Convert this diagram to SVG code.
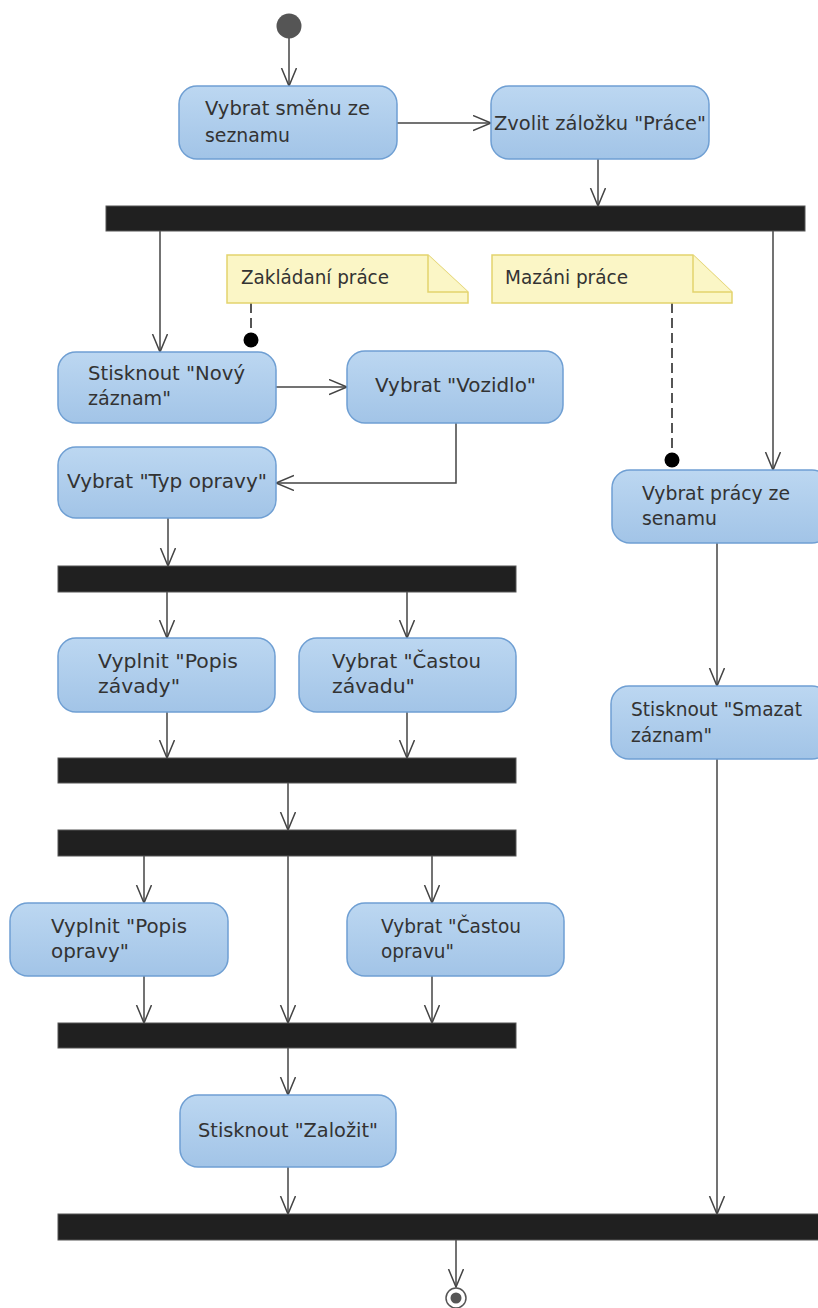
<svg xmlns="http://www.w3.org/2000/svg" width="818" height="1308" viewBox="0 0 818 1308">
  <style>
    .act { fill: url(#actFill); stroke: #6f9fd3; stroke-width: 1.5; }
    .bar { fill: #202020; stroke: #555; stroke-width: 1; }
    .note { fill: #fbf6c6; stroke: #e3d36e; stroke-width: 1.5; }
    .lbl { font-family: "DejaVu Sans", "Liberation Sans", sans-serif; font-size: 20px; fill: #333; }
    .flow { fill: none; stroke: #444; stroke-width: 1.5; marker-end: url(#open); }
    .anchor { fill: none; stroke: #555; stroke-width: 2; stroke-dasharray: 10 5; }
  </style>
  <defs>
    <linearGradient id="actFill" x1="0" y1="0" x2="0" y2="1">
      <stop offset="0" stop-color="#bcd7f1"/>
      <stop offset="1" stop-color="#a2c4e7"/>
    </linearGradient>
    <marker id="open" markerUnits="userSpaceOnUse" markerWidth="20" markerHeight="18" refX="18" refY="8" orient="auto">
      <path d="M0,0.5 L18,8 L0,15.5" fill="none" stroke="#444" stroke-width="1.5"/>
    </marker>
  </defs>

  <rect width="818" height="1308" fill="#fff"/>

  <!-- connectors -->
  <g id="connectors">
    <line class="flow" x1="289" y1="38" x2="289" y2="86"/>
    <line class="flow" x1="397" y1="123" x2="491" y2="123"/>
    <line class="flow" x1="598" y1="159" x2="598" y2="206"/>
    <line class="flow" x1="160" y1="231" x2="160" y2="352"/>
    <line class="flow" x1="773" y1="231" x2="773" y2="470"/>
    <line class="flow" x1="276" y1="387" x2="347" y2="387"/>
    <polyline class="flow" points="456,423 456,483 276,483"/>
    <line class="flow" x1="168" y1="518" x2="168" y2="566"/>
    <line class="flow" x1="167" y1="592" x2="167" y2="638"/>
    <line class="flow" x1="407" y1="592" x2="407" y2="638"/>
    <line class="flow" x1="167" y1="712" x2="167" y2="758"/>
    <line class="flow" x1="407" y1="712" x2="407" y2="758"/>
    <line class="flow" x1="288" y1="783" x2="288" y2="830"/>
    <line class="flow" x1="144" y1="856" x2="144" y2="903"/>
    <line class="flow" x1="288" y1="856" x2="288" y2="1023"/>
    <line class="flow" x1="432" y1="856" x2="432" y2="903"/>
    <line class="flow" x1="144" y1="976" x2="144" y2="1023"/>
    <line class="flow" x1="432" y1="976" x2="432" y2="1023"/>
    <line class="flow" x1="288" y1="1048" x2="288" y2="1095"/>
    <line class="flow" x1="288" y1="1167" x2="288" y2="1214"/>
    <line class="flow" x1="717" y1="543" x2="717" y2="686"/>
    <line class="flow" x1="717" y1="759" x2="717" y2="1214"/>
    <line class="flow" x1="456" y1="1240" x2="456" y2="1287"/>
    <!-- note anchors -->
    <line class="anchor" x1="251" y1="303" x2="251" y2="336"/>
    <circle cx="251" cy="340" r="7.5" fill="#000"/>
    <line class="anchor" x1="672" y1="303" x2="672" y2="456"/>
    <circle cx="672" cy="460" r="7.5" fill="#000"/>
  </g>

  <!-- start / end -->
  <g id="start"><circle cx="289" cy="26" r="12.5" fill="#555"/></g>
  <g id="end">
    <circle cx="456" cy="1298" r="10" fill="#fff" stroke="#555" stroke-width="1.5"/>
    <circle cx="456" cy="1298" r="5.5" fill="#555"/>
  </g>

  <!-- fork / join bars -->
  <g id="bar1"><rect class="bar" x="106" y="206" width="699" height="25"/></g>
  <g id="bar2"><rect class="bar" x="58" y="566" width="458" height="26"/></g>
  <g id="bar3"><rect class="bar" x="58" y="758" width="458" height="25"/></g>
  <g id="bar4"><rect class="bar" x="58" y="830" width="458" height="26"/></g>
  <g id="bar5"><rect class="bar" x="58" y="1023" width="458" height="25"/></g>
  <g id="bar6"><rect class="bar" x="58" y="1214" width="770" height="26"/></g>

  <!-- notes -->
  <g id="noteZakladani">
    <path class="note" d="M227,255 H428 L468,292 V303 H227 Z"/>
    <path class="note" d="M428,255 V292 H468"/>
    <text class="lbl" x="241" y="284" textLength="148" lengthAdjust="spacingAndGlyphs">Zakládaní práce</text>
  </g>
  <g id="noteMazani">
    <path class="note" d="M492,255 H693 L732,292 V303 H492 Z"/>
    <path class="note" d="M693,255 V292 H732"/>
    <text class="lbl" x="505" y="284" textLength="123" lengthAdjust="spacingAndGlyphs">Mazáni práce</text>
  </g>

  <!-- actions -->
  <g id="vybratSmenu">
    <rect class="act" x="179" y="86" width="218" height="73" rx="18"/>
    <text class="lbl" x="205" y="115" textLength="165" lengthAdjust="spacingAndGlyphs">Vybrat směnu ze</text>
    <text class="lbl" x="205" y="142" textLength="85" lengthAdjust="spacingAndGlyphs">seznamu</text>
  </g>
  <g id="zvolitZalozku">
    <rect class="act" x="491" y="86" width="218" height="73" rx="18"/>
    <text class="lbl" x="494" y="130" textLength="212" lengthAdjust="spacingAndGlyphs">Zvolit záložku "Práce"</text>
  </g>
  <g id="novyZaznam">
    <rect class="act" x="58" y="352" width="218" height="71" rx="18"/>
    <text class="lbl" x="88" y="380" textLength="157" lengthAdjust="spacingAndGlyphs">Stisknout "Nový</text>
    <text class="lbl" x="88" y="405" textLength="83" lengthAdjust="spacingAndGlyphs">záznam"</text>
  </g>
  <g id="vybratVozidlo">
    <rect class="act" x="347" y="351" width="216" height="72" rx="18"/>
    <text class="lbl" x="375" y="392" textLength="161" lengthAdjust="spacingAndGlyphs">Vybrat "Vozidlo"</text>
  </g>
  <g id="vybratTyp">
    <rect class="act" x="58" y="447" width="218" height="71" rx="18"/>
    <text class="lbl" x="67" y="488" textLength="200" lengthAdjust="spacingAndGlyphs">Vybrat "Typ opravy"</text>
  </g>
  <g id="vybratPracy">
    <rect class="act" x="612" y="470" width="218" height="73" rx="18"/>
    <text class="lbl" x="642" y="500" textLength="148" lengthAdjust="spacingAndGlyphs">Vybrat prácy ze</text>
    <text class="lbl" x="642" y="525" textLength="75" lengthAdjust="spacingAndGlyphs">senamu</text>
  </g>
  <g id="popisZavady">
    <rect class="act" x="58" y="638" width="217" height="74" rx="18"/>
    <text class="lbl" x="98" y="668" textLength="140" lengthAdjust="spacingAndGlyphs">Vyplnit "Popis</text>
    <text class="lbl" x="98" y="693" textLength="82" lengthAdjust="spacingAndGlyphs">závady"</text>
  </g>
  <g id="castouZavadu">
    <rect class="act" x="299" y="638" width="217" height="74" rx="18"/>
    <text class="lbl" x="332" y="668" textLength="149" lengthAdjust="spacingAndGlyphs">Vybrat "Častou</text>
    <text class="lbl" x="332" y="693" textLength="83" lengthAdjust="spacingAndGlyphs">závadu"</text>
  </g>
  <g id="smazatZaznam">
    <rect class="act" x="611" y="686" width="219" height="73" rx="18"/>
    <text class="lbl" x="631" y="716" textLength="171" lengthAdjust="spacingAndGlyphs">Stisknout "Smazat</text>
    <text class="lbl" x="631" y="742" textLength="81" lengthAdjust="spacingAndGlyphs">záznam"</text>
  </g>
  <g id="popisOpravy">
    <rect class="act" x="10" y="903" width="218" height="73" rx="18"/>
    <text class="lbl" x="51" y="933" textLength="136" lengthAdjust="spacingAndGlyphs">Vyplnit "Popis</text>
    <text class="lbl" x="51" y="958" textLength="78" lengthAdjust="spacingAndGlyphs">opravy"</text>
  </g>
  <g id="castouOpravu">
    <rect class="act" x="347" y="903" width="217" height="73" rx="18"/>
    <text class="lbl" x="381" y="933" textLength="140" lengthAdjust="spacingAndGlyphs">Vybrat "Častou</text>
    <text class="lbl" x="381" y="958" textLength="73" lengthAdjust="spacingAndGlyphs">opravu"</text>
  </g>
  <g id="zalozit">
    <rect class="act" x="180" y="1095" width="216" height="72" rx="18"/>
    <text class="lbl" x="198" y="1137" textLength="180" lengthAdjust="spacingAndGlyphs">Stisknout "Založit"</text>
  </g>
</svg>
